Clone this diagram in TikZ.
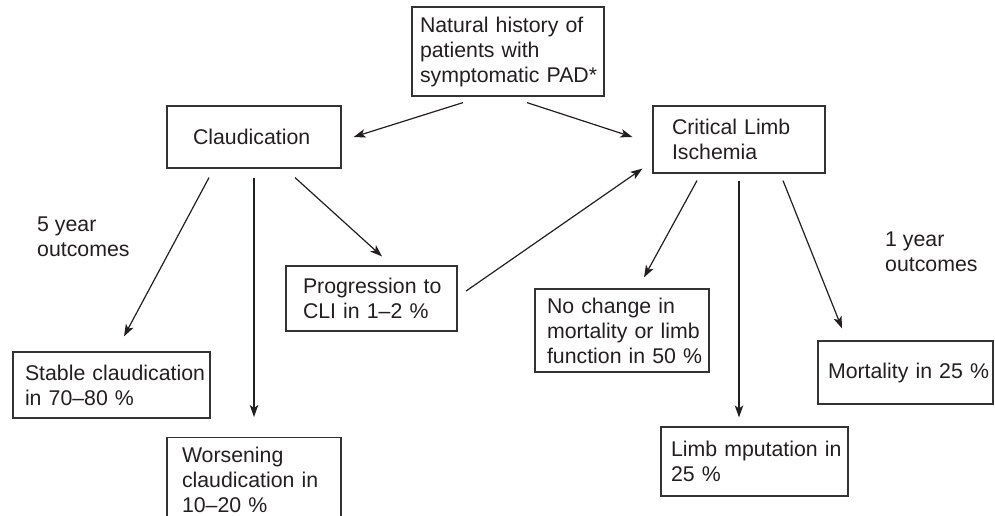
\documentclass[tikz,border=0pt]{standalone}
\usepackage{fontspec}
\setmainfont{Liberation Sans}
\usepackage{xcolor}
\usepackage{tikz}
\usetikzlibrary{calc,arrows.meta}
\hyphenpenalty=10000
\exhyphenpenalty=10000
\definecolor{ink}{HTML}{231F20}
\definecolor{frame}{HTML}{333333}
\newcommand{\flowfont}{\fontsize{21.3pt}{25pt}\selectfont}
\tikzset{
  box/.style={draw=frame, line width=1.2pt, text=ink, font=\flowfont, align=left, inner xsep=0pt, inner ysep=4pt},
  arr/.style={draw=ink, line width=1.2pt, -{Stealth[length=12pt,width=8.5pt,inset=3pt]}},
  lbl/.style={text=ink, font=\flowfont, align=left, inner sep=0pt, anchor=north west}
}

\begin{document}
\begin{tikzpicture}[x=1pt,y=-1pt]
  \clip (0,0) rectangle (995,515);

  % boxes
  \node[box, minimum width=192, minimum height=89, text width=176] (nat) at (508,51.5)
    {Natural~history~of\\patients~with\\symptomatic~PAD*};
  \node[box, minimum width=174, minimum height=62, text width=122] (claud) at (254,137) {Claudication};
  \node[box, minimum width=172, minimum height=67, text width=134] (cli) at (739,139.5)
    {Critical~Limb\\Ischemia};
  \node[box, minimum width=171, minimum height=65, text width=137] (prog) at (371.5,298.5)
    {Progression~to\\CLI~in~1–2~\%};
  \node[box, minimum width=197, minimum height=66, text width=173] (stable) at (111.5,385)
    {Stable~claudication\\in~70–80~\%};
  \node[box, minimum width=174, text width=144, inner ysep=9.5pt, anchor=north] (worse) at (254,437)
    {Worsening\\claudication~in\\10–20~\%};
  \node[box, minimum width=174, minimum height=83, text width=150] (nochg) at (622,330.5)
    {No~change~in\\mortality~or~limb\\function~in~50~\%};
  \node[box, minimum width=175, minimum height=63, text width=155] (mort) at (905.5,372.5)
    {Mortality~in~25~\%};
  \node[box, minimum width=187, minimum height=69, text width=167] (limb) at (754.5,461.5)
    {Limb~mputation~in\\25~\%};

  \node[lbl] (five) at (37,216.7) {5~year\\outcomes};
  \node[lbl] (one) at (885,231.7) {1~year\\outcomes};

  % arrows
  \draw[arr] ($(nat.south)+(-45,6)$) -- ($(claud.east)+(12,0)$);
  \draw[arr] ($(nat.south)+(19,6)$) -- ($(cli.west)+(-20,-2.5)$);
  \draw[arr] ($(claud.south)+(-45,9)$) -- ($(stable.north)+(12.5,-15)$);
  \draw[arr] ($(claud.south)+(0,9)$) -- ($(worse.north)+(0,-20)$);
  \draw[arr] ($(claud.south)+(41,9)$) -- ($(prog.north)+(10.5,-9)$);
  \draw[arr] ($(prog.east)+(8.5,-7.5)$) -- ($(cli.south west)+(-10,-5)$);
  \draw[arr] ($(cli.south)+(-42,7)$) -- ($(nochg.north)+(22,-11)$);
  \draw[arr] ($(cli.south)+(0,7)$) -- ($(limb.north)+(-15.5,-9)$);
  \draw[arr] ($(cli.south)+(44,7)$) -- ($(mort.north)+(-63.5,-12)$);
\end{tikzpicture}
\end{document}
